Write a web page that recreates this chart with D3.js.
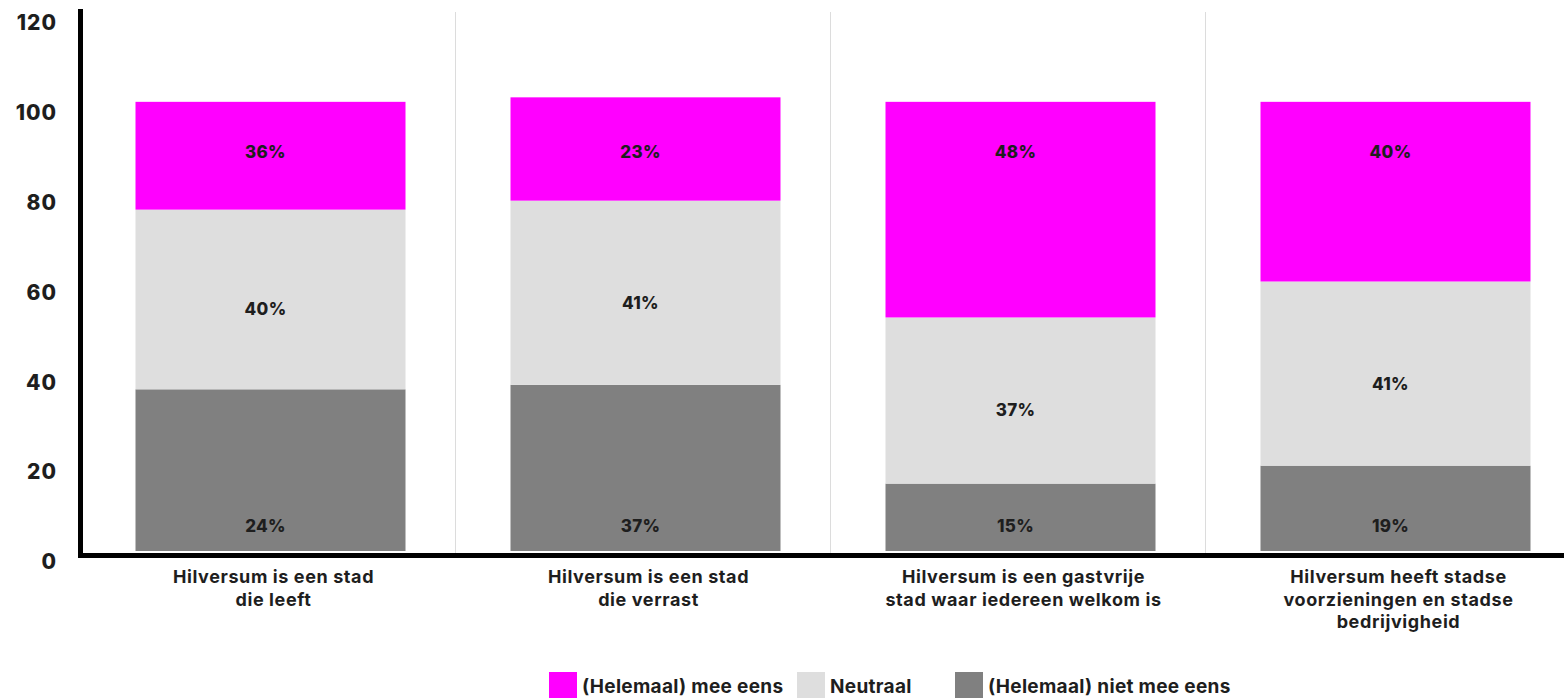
<!DOCTYPE html>
<html>
<head>
<meta charset="utf-8">
<script src="https://cdn.jsdelivr.net/npm/d3@7"></script>
<style>
  body { margin: 0; background: #fff; }
  svg { display: block; }
</style>
</head>
<body>
<svg></svg>
<script>
// data
let categories = [
    ['Hilversum is een stad', 'die leeft'],
    ['Hilversum is een stad', 'die verrast'],
    ['Hilversum is een gastvrije', 'stad waar iedereen welkom is'],
    ['Hilversum heeft stadse', 'voorzieningen en stadse', 'bedrijvigheid']
];
let seriesNames = ['(Helemaal) niet mee eens', 'Neutraal', '(Helemaal) mee eens'];
let oneens = [36, 37, 15, 19];
let neutraal = [40, 41, 37, 41];
let eens = [24, 23, 48, 40];
// printed labels (as shown in the chart)
let oneensLabels = ['24%', '37%', '15%', '19%'];
let neutraalLabels = ['40%', '41%', '37%', '41%'];
let eensLabels = ['36%', '23%', '48%', '40%'];
let yTicks = [0, 20, 40, 60, 80, 100, 120];

let width = 1564;
let height = 698;
let colors = ['#808080', '#dedede', '#ff00ff'];
let textColor = '#1e1e1e';
let font = 'Inter, "Noto Sans", sans-serif';

let svg = d3.select('svg')
    .attr('width', width)
    .attr('height', height)
    .attr('font-family', font)
    .attr('font-weight', 700);

let x = d3.scaleBand()
    .domain(d3.range(categories.length))
    .range([83, 1583])
    .paddingInner(0.28)
    .paddingOuter(0.14);

let y = d3.scaleLinear().domain([0, 120]).range([551, 12]);

let rows = categories.map((c, i) => ({ i: i, oneens: oneens[i], neutraal: neutraal[i], eens: eens[i] }));
let stack = d3.stack().keys(['oneens', 'neutraal', 'eens'])(rows);
let labelSets = [oneensLabels, neutraalLabels, eensLabels];

// light separators between categories
svg.append('g')
    .selectAll('line')
    .data(d3.range(1, categories.length))
    .enter()
    .append('line')
    .attr('x1', i => x(i) - x.step() * 0.14 - 2.5)
    .attr('x2', i => x(i) - x.step() * 0.14 - 2.5)
    .attr('y1', 12)
    .attr('y2', y(0) + 2)
    .attr('stroke', '#dcdcdc')
    .attr('stroke-width', 1);

// stacked bars
let layers = svg.append('g')
    .selectAll('g')
    .data(stack)
    .enter()
    .append('g')
    .attr('fill', (d, k) => colors[k]);

layers.selectAll('rect')
    .data(d => d)
    .enter()
    .append('rect')
    .attr('x', d => x(d.data.i))
    .attr('width', x.bandwidth())
    .attr('y', d => y(d[1]))
    .attr('height', d => y(d[0]) - y(d[1]));

// value labels
let labelY = [
    d => y(0) - 25,
    d => (y(d[0]) + y(d[1])) / 2 + 10,
    d => y(100) + 50
];
stack.forEach((layer, k) => {
    svg.append('g')
        .selectAll('text')
        .data(layer)
        .enter()
        .append('text')
        .attr('x', d => x(d.data.i) + x.bandwidth() / 2 - 5)
        .attr('y', labelY[k])
        .attr('dy', '0.35em')
        .attr('text-anchor', 'middle')
        .attr('font-size', 17)
        .attr('font-weight', 800)
        .attr('letter-spacing', 0.3)
        .attr('fill', textColor)
        .text(d => labelSets[k][d.data.i]);
});

// y axis
let yAxis = svg.append('g')
    .attr('transform', 'translate(80,0)')
    .call(d3.axisLeft(y).tickValues(yTicks).tickSize(0).tickPadding(23));
yAxis.select('.domain').remove();
yAxis.selectAll('text')
    .attr('font-family', font)
    .attr('font-weight', 800)
    .attr('font-size', 21)
    .attr('letter-spacing', 1)
    .attr('fill', textColor)
    .attr('dy', '0.32em')
    .attr('transform', 'translate(0,11)');

// axis lines
svg.append('line')
    .attr('x1', 80.5).attr('x2', 80.5)
    .attr('y1', 9).attr('y2', y(0) + 7)
    .attr('stroke', '#000').attr('stroke-width', 5);
svg.append('line')
    .attr('x1', 78).attr('x2', width)
    .attr('y1', y(0) + 4.5).attr('y2', y(0) + 4.5)
    .attr('stroke', '#000').attr('stroke-width', 5);

// category labels
let cats = svg.append('g')
    .selectAll('text')
    .data(categories)
    .enter()
    .append('text')
    .attr('text-anchor', 'middle')
    .attr('font-size', 18)
    .attr('letter-spacing', 0.6)
    .attr('fill', textColor)
    .attr('x', (d, i) => x(i) + x.bandwidth() / 2 + 3);

cats.selectAll('tspan')
    .data(d => d)
    .enter()
    .append('tspan')
    .attr('x', function () { return d3.select(this.parentNode).attr('x'); })
    .attr('y', (d, j) => 583 + j * 22.5)
    .text(d => d);

// legend
let legendItems = [
    { name: seriesNames[2], color: colors[2], x: 549 },
    { name: seriesNames[1], color: colors[1], x: 797 },
    { name: seriesNames[0], color: colors[0], x: 955 }
];
let legend = svg.append('g')
    .selectAll('g')
    .data(legendItems)
    .enter()
    .append('g')
    .attr('transform', d => `translate(${d.x},672)`);

legend.append('rect')
    .attr('width', 28)
    .attr('height', 26)
    .attr('fill', d => d.color);

legend.append('text')
    .attr('x', 33)
    .attr('y', 14)
    .attr('dy', '0.35em')
    .attr('font-size', 19)
    .attr('letter-spacing', 0.3)
    .attr('fill', textColor)
    .text(d => d.name);
</script>
</body>
</html>
